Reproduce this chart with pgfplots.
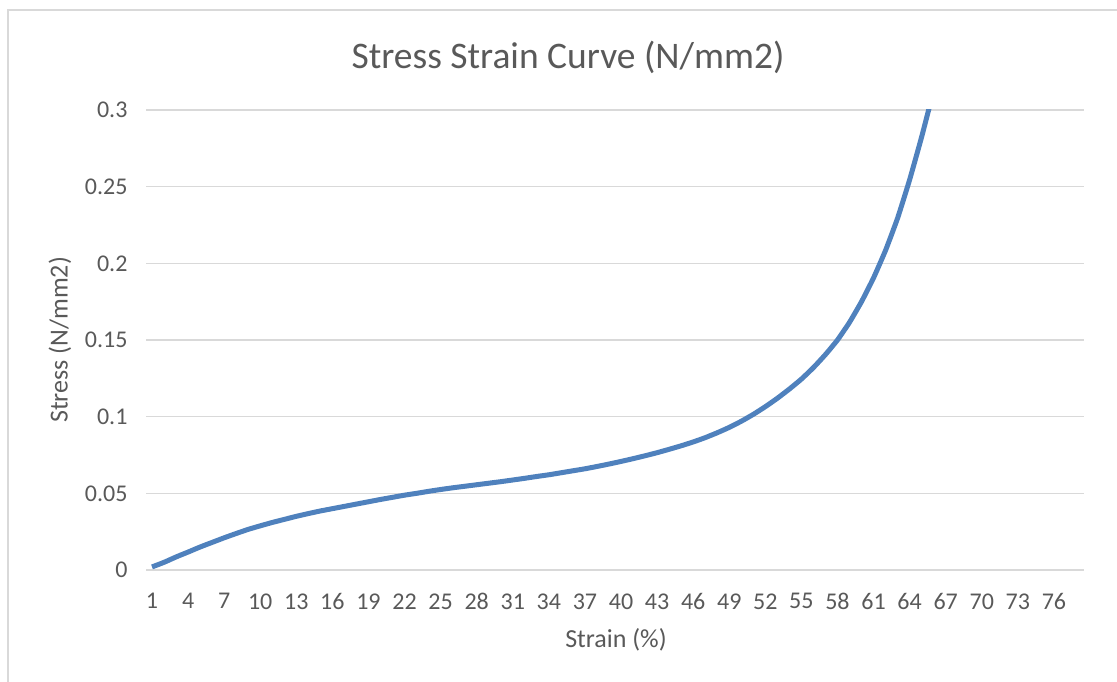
\documentclass[border=0pt]{standalone}
\usepackage{fontspec}
\setmainfont{Carlito}
\usepackage{pgfplots}
\pgfplotsset{compat=1.18}
\definecolor{gridgray}{HTML}{D9D9D9}
\definecolor{txtgray}{HTML}{595959}
\definecolor{lineblue}{HTML}{4F81BD}
\begin{document}
\begin{tikzpicture}[x=1pt,y=1pt]
\path[use as bounding box] (0,0) rectangle (1117,682);
\draw[gridgray,line width=1.2pt] (8,0) -- (8,672) -- (1117,672);
\node[txtgray,font=\fontsize{37.5}{42}\selectfont] at (568,625) {Stress Strain Curve (N/mm2)};
\node[txtgray,font=\fontsize{26}{30}\selectfont] at (616,42) {Strain (\%)};
\node[txtgray,font=\fontsize{26}{30}\selectfont,rotate=90] at (60,342) {Stress (N/mm2)};
\begin{axis}[
  at={(146pt,112pt)}, anchor=south west,
  scale only axis, width=938pt, height=460pt,
  xmin=0.5, xmax=78.5, ymin=0, ymax=0.3,
  xtick={1,4,...,76}, ytick={0,0.05,...,0.3},
  yticklabels={0,0.05,0.1,0.15,0.2,0.25,0.3},
  major tick length=0pt,
  ymajorgrids, grid style={gridgray,line width=1.4pt},
  axis x line*=bottom, axis y line*=left,
  x axis line style={gridgray,line width=1.4pt,-},
  y axis line style={draw=none},
  tick label style={txtgray,font=\fontsize{24}{28}\selectfont},
  /pgf/number format/assume math mode=true,
  xticklabel style={yshift=-20pt},
  yticklabel style={xshift=-15pt},
  clip=true,
]
\addplot[lineblue,line width=5pt,smooth,tension=0.25] coordinates {
(1,0.002)(2,0.005)(3,0.0085)(4,0.0117)(5,0.015)(6,0.018)(7,0.021)(8,0.0238)
(9,0.0265)(10,0.0288)(11,0.031)(12,0.033)(13,0.035)(14,0.0368)(15,0.0385)
(16,0.040)(17,0.0415)(18,0.043)(19,0.0445)(20,0.046)(21,0.0474)(22,0.0488)
(23,0.050)(24,0.0513)(25,0.0525)(26,0.0536)(27,0.0546)(28,0.0556)(29,0.0566)
(30,0.0576)(31,0.0587)(32,0.0598)(33,0.061)(34,0.0621)(35,0.0634)(36,0.0647)
(37,0.066)(38,0.0675)(39,0.0691)(40,0.0708)(41,0.0726)(42,0.0745)(43,0.0765)
(44,0.0787)(45,0.0810)(46,0.0835)(47,0.0863)(48,0.0895)(49,0.0930)(50,0.0970)
(51,0.1015)(52,0.1065)(53,0.112)(54,0.118)(55,0.1245)(56,0.132)(57,0.1405)
(58,0.150)(59,0.1615)(60,0.175)(61,0.1905)(62,0.2085)(63,0.2295)(64,0.2545)
(65,0.2825)(66,0.313)(67,0.347)
};
\end{axis}
\end{tikzpicture}
\end{document}
